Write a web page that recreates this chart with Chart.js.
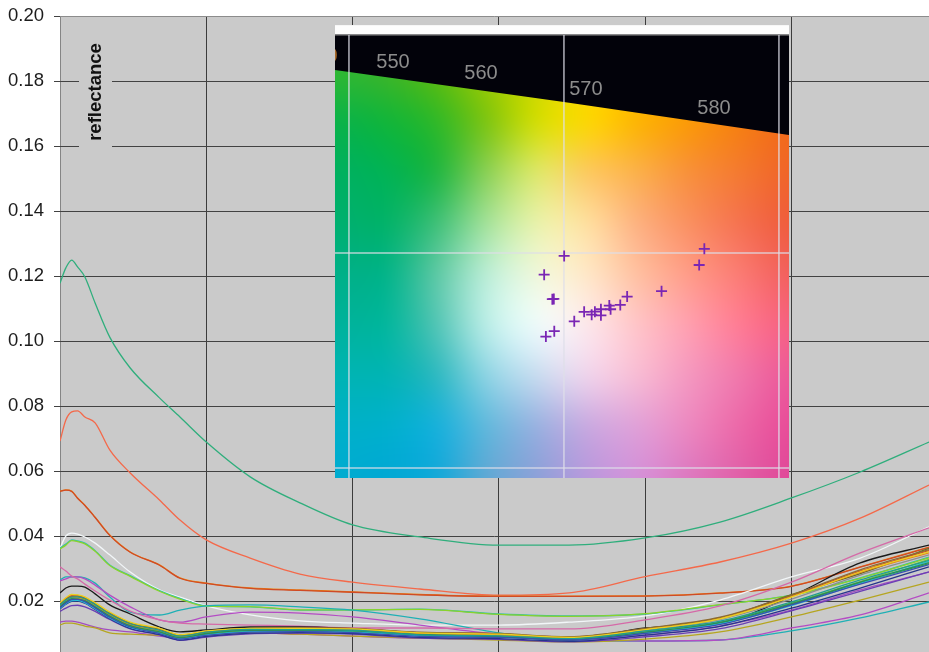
<!DOCTYPE html>
<html lang="en">
<head>
    <meta charset="UTF-8">
    <title>Reflectance spectra</title>
    <script src="https://cdn.jsdelivr.net/npm/chart.js"></script>
    <style>
        html, body { margin: 0; padding: 0; background: #fff; }
        canvas { display: block; }
    </style>
    <script>
        // x positions of the readings, in nm (no labels on the axis)
        const wavelengths = [400, 402, 404, 406, 408.5, 412, 417, 424, 434, 441, 450, 465, 482, 500, 523, 550, 574, 600, 625.6, 650, 673.5, 697];
        const yTicks = [0.20, 0.18, 0.16, 0.14, 0.12, 0.10, 0.08, 0.06, 0.04, 0.02];
        const xTicks = [400, 450, 500, 550, 600, 650];

        // the crowded group of curves near the bottom
        const bandBlue = [.0180,.0194,.0204,.0205,.0198,.0179,.0150,.0120,.0100,.0083,.0094,.0104,.0106,.0103,.0091,.0088,.0080,.0100,.0128,.0188,.0252,.0312];
        const bandTeal = [.0188,.0203,.0212,.0213,.0207,.0189,.0160,.0130,.0110,.0092,.0104,.0113,.0112,.0110,.0096,.0093,.0084,.0108,.0138,.0197,.0265,.0325];
        const bandYellow = [.0195,.0210,.0220,.0219,.0213,.0195,.0166,.0135,.0116,.0096,.0108,.0116,.0116,.0114,.0102,.0098,.0088,.0112,.0145,.0212,.0290,.0352];
        const bandDarkGreen = [.0182,.0198,.0207,.0206,.0201,.0182,.0154,.0124,.0105,.0087,.0100,.0110,.0110,.0108,.0097,.0090,.0082,.0104,.0134,.0192,.0258,.0318];
        const bandBrown = [.0190,.0206,.0214,.0215,.0208,.0191,.0162,.0132,.0113,.0094,.0106,.0116,.0118,.0116,.0104,.0100,.0090,.0116,.0150,.0218,.0296,.0358];
        const bandOrange = [.0186,.0202,.0211,.0210,.0205,.0187,.0158,.0128,.0109,.0090,.0103,.0112,.0113,.0112,.0100,.0096,.0087,.0113,.0147,.0214,.0288,.0348];
        const bandCyan = [.0178,.0192,.0201,.0202,.0195,.0176,.0148,.0119,.0101,.0084,.0096,.0106,.0107,.0105,.0093,.0089,.0081,.0102,.0130,.0186,.0254,.0322];
        const bandNavy = [.0176,.0190,.0199,.0200,.0193,.0174,.0146,.0116,.0097,.0080,.0091,.0101,.0103,.0100,.0088,.0084,.0076,.0095,.0122,.0178,.0240,.0305];
        const bandLime = [.0183,.0199,.0208,.0208,.0202,.0184,.0155,.0125,.0106,.0088,.0101,.0109,.0109,.0107,.0095,.0091,.0083,.0106,.0136,.0194,.0260,.0328];
        const bandRed = [.0192,.0208,.0217,.0217,.0210,.0193,.0164,.0133,.0114,.0095,.0107,.0115,.0117,.0115,.0103,.0099,.0089,.0114,.0148,.0216,.0292,.0355];
        const bandGrey = [.0187,.0201,.0210,.0211,.0204,.0186,.0159,.0127,.0107,.0091,.0103,.0112,.0114,.0111,.0099,.0094,.0085,.0110,.0143,.0206,.0280,.0342];
        const bandViolet = [.0168,.0178,.0186,.0187,.0182,.0168,.0143,.0114,.0096,.0079,.0089,.0099,.0101,.0098,.0086,.0082,.0074,.0090,.0115,.0170,.0230,.0290];
        const bandGreen = [.0180,.0195,.0205,.0204,.0199,.0181,.0152,.0122,.0103,.0085,.0098,.0107,.0108,.0106,.0094,.0091,.0082,.0101,.0131,.0190,.0256,.0315];
        const bandOlive = [.0184,.0197,.0206,.0207,.0200,.0183,.0156,.0126,.0108,.0089,.0105,.0114,.0115,.0113,.0101,.0097,.0088,.0115,.0146,.0220,.0284,.0362];

        // the curves that can be followed on their own
        const curveBlack = [.0225,.0240,.0246,.0246,.0243,.0222,.0188,.0160,.0120,.0105,.0111,.0120,.0120,.0114,.0102,.0092,.0080,.0117,.0132,.0215,.0317,.0372];
        const curveOchre = [.0126,.0132,.0132,.0129,.0123,.0117,.0102,.0098,.0095,.0089,.0095,.0102,.0098,.0092,.0086,.0080,.0074,.0083,.0105,.0151,.0203,.0258];
        const curvePurple = [.0135,.0138,.0138,.0135,.0129,.0120,.0111,.0105,.0092,.0086,.0092,.0102,.0098,.0092,.0086,.0089,.0080,.0095,.0123,.0172,.0234,.0289];
        const curvePink = [.0305,.0292,.0277,.0268,.0252,.0231,.0203,.0169,.0142,.0132,.0129,.0126,.0123,.0117,.0117,.0114,.0114,.0142,.0185,.0258,.0348,.0425];
        const curveMagenta = [.0262,.0268,.0274,.0274,.0268,.0249,.0218,.0182,.0142,.0135,.0151,.0166,.0163,.0151,.0126,.0098,.0083,.0077,.0080,.0117,.0157,.0225];
        const curveTealLow = [.0265,.0274,.0274,.0274,.0271,.0255,.0212,.0166,.0157,.0172,.0185,.0188,.0182,.0172,.0145,.0102,.0080,.0077,.0080,.0108,.0148,.0197];
        const curveLime = [.0360,.0372,.0386,.0383,.0376,.0353,.0309,.0276,.0230,.0206,.0184,.0183,.0173,.0173,.0174,.0159,.0153,.0161,.0189,.0217,.0270,.0333];
        const curveTeal = [.0363,.0375,.0388,.0385,.0378,.0355,.0311,.0278,.0232,.0208,.0185,.0182,.0172,.0172,.0175,.0160,.0154,.0160,.0188,.0218,.0271,.0335];
        const curveWhite = [.0363,.0400,.0409,.0406,.0397,.0378,.0342,.0289,.0234,.0212,.0185,.0157,.0139,.0132,.0126,.0126,.0135,.0154,.0203,.0274,.0332,.0428];
        const curveRust = [.0537,.0541,.0537,.0516,.0494,.0457,.0402,.0350,.0310,.0270,.0254,.0239,.0233,.0227,.0219,.0214,.0214,.0215,.0224,.0245,.0304,.0365];
        const curveOrange = [.0538,.0542,.0538,.0517,.0495,.0458,.0403,.0351,.0311,.0271,.0255,.0240,.0234,.0228,.0220,.0215,.0215,.0216,.0225,.0246,.0305,.0366];
        const curveCoral = [.0692,.0757,.0782,.0785,.0766,.0748,.0665,.0594,.0511,.0449,.0388,.0332,.0283,.0258,.0237,.0218,.0225,.0275,.0320,.0378,.0455,.0557];
        const curveGreen = [.1178,.1225,.1249,.1228,.1197,.1117,.1012,.0917,.0825,.0766,.0689,.0582,.0502,.0434,.0397,.0372,.0372,.0394,.0443,.0517,.0597,.0689];

        const seriesData = [bandBlue, bandTeal, bandYellow, bandDarkGreen, bandBrown, bandOrange, bandCyan, bandNavy, bandLime, bandRed, bandGrey, bandViolet, bandGreen, bandOlive,
            curveBlack, curveOchre, curvePurple, curvePink, curveMagenta, curveTealLow, curveLime, curveTeal, curveWhite, curveRust, curveOrange, curveCoral, curveGreen];
        const seriesColors = ['#3a4fb0', '#1f9e8f', '#e9d21f', '#2e8b57', '#8c6d31', '#e58a1f', '#21c7d6', '#26358c', '#6cc644', '#d43d2a', '#8d8d8d', '#6a3fb5', '#1fa84f', '#6b6b1f',
            '#1a1a1a', '#b5a520', '#a24ec0', '#d56aa8', '#b44cc4', '#1fb0b5', '#8bd32a', '#2ebfb0', '#f2f6f8', '#cf4a26', '#ee8410', '#f4694a', '#2fae7c'];

        // inset: the measured points in the u'v' diagram
        const crossU = [.2653, .2629, .2001, .1908, .1946, .1953, .2454, .2294, .2262, .2211, .2217, .2172, .2172, .2144, .2129, .2094, .2048, .1955, .1916];
        const crossV = [.5019, .4944, .4986, .4899, .4785, .4786, .4822, .4797, .4758, .4755, .4738, .4738, .4710, .4727, .4713, .4726, .4682, .4636, .4611];

        const insetGridU = [0.1, 0.2, 0.3];
        const insetGridV = [0.5, 0.4];
        const locusU = [.0935, .2, .3047];
        const locusV = [.5851, .5702, .5549];
        const locusLabels = ['540', '550', '560', '570', '580'];
        const locusLabelU = [.0870, .1205, .1614, .2102, .2698];
        const locusLabelV = [.5916, .5888, .5833, .5758, .5670];

        // colours of the diagram, top row to bottom row
        const insetRows = [
            ['#2fb832', '#3cb52a', '#5dbb10', '#9ccc05', '#cfd800', '#ffd800', '#ffc000', '#ffa800', '#fa8c00', '#f57810'],
            ['#0ab24a', '#10b53a', '#2db828', '#7cc410', '#d4de00', '#fdd800', '#fdb400', '#fb9a05', '#f6800f', '#f26a18'],
            ['#00b060', '#00b355', '#1cb540', '#8ad055', '#dfe96a', '#fdc860', '#fbb04a', '#f8903a', '#f47a30', '#f06428'],
            ['#00b070', '#00b268', '#3cbf77', '#a4e29a', '#eaf3ac', '#ffe0a0', '#fdb080', '#fa9060', '#f57250', '#ef5c3c'],
            ['#00b088', '#00b388', '#5cc8a4', '#bceed8', '#f0f8dc', '#ffe8c8', '#ffc0a0', '#ff9c88', '#fb7c74', '#f25f5c'],
            ['#00b29c', '#00b69c', '#50c4b4', '#bceee8', '#f0fcfc', '#fde8ec', '#ffc4c8', '#ffa0b0', '#ff7c94', '#f66080'],
            ['#00b4b4', '#00b4b4', '#2ab8c0', '#8ed4e4', '#c8dcf0', '#f0d4ec', '#f8bcd4', '#f498c0', '#f078ac', '#ec5898'],
            ['#00b0c8', '#00b0cc', '#14b0dc', '#60b8dc', '#98b0e0', '#c8a8e0', '#e0a0d8', '#ec88c0', '#ec68a8', '#e84c98'],
            ['#00acd0', '#00a8d4', '#10a8d8', '#60a8d4', '#8ca0d8', '#b898dc', '#d490d8', '#dc78c0', '#e060a8', '#e04898']
        ];

        const PLOT_BG = '#cacaca';
        const FONT = '"Liberation Sans", Arial, sans-serif';

        function noPadding(s) {
            s.paddingLeft = s.paddingRight = s.paddingTop = s.paddingBottom = 0;
        }

        function colorField() {
            const rows = insetRows.length, cols = insetRows[0].length;
            const c = document.createElement('canvas');
            c.width = cols;
            c.height = rows;
            const g = c.getContext('2d');
            insetRows.forEach((row, r) => row.forEach((col, i) => {
                g.fillStyle = col;
                g.fillRect(i, r, 1, 1);
            }));
            return c;
        }

        const backgroundPlugin = {
            id: 'plotBackground',
            beforeDraw(chart) {
                const a = chart.chartArea, ctx = chart.ctx;
                ctx.save();
                ctx.fillStyle = PLOT_BG;
                ctx.fillRect(a.left, a.top, a.right - a.left, a.bottom - a.top);
                ctx.restore();
            }
        };

        // axis title sits inside the plot with a patch behind it, then the diagram
        const insetPlugin = {
            id: 'inset',
            beforeDatasetsDraw(chart) {
                const ctx = chart.ctx, U = chart.scales.u, V = chart.scales.v;
                const px = u => U.getPixelForValue(u), py = v => V.getPixelForValue(v);

                ctx.save();
                ctx.fillStyle = PLOT_BG;
                ctx.fillRect(79, 30, 33, 128);
                ctx.translate(101, 92);
                ctx.rotate(-Math.PI / 2);
                ctx.fillStyle = '#111';
                ctx.font = 'bold 18.5px ' + FONT;
                ctx.textAlign = 'center';
                ctx.fillText('reflectance', 0, 0);
                ctx.restore();

                const left = px(.0935), right = px(.3047), top = py(.6060), bottom = py(.3953);
                const imgTop = py(.5851);
                ctx.save();
                ctx.beginPath();
                ctx.rect(left, top, right - left, bottom - top);
                ctx.clip();
                ctx.fillStyle = '#02020a';
                ctx.fillRect(left, top, right - left, bottom - top);
                ctx.imageSmoothingEnabled = true;
                ctx.imageSmoothingQuality = 'high';
                const field = colorField();
                ctx.drawImage(field, 0.5, 0.5, field.width - 1, field.height - 1, left, imgTop, right - left, bottom - imgTop);

                // black above the spectrum locus
                ctx.fillStyle = '#02020a';
                ctx.beginPath();
                ctx.moveTo(left, top);
                ctx.lineTo(right, top);
                locusU.slice().reverse().forEach((u, i) => ctx.lineTo(px(u), py(locusV[locusV.length - 1 - i])));
                ctx.closePath();
                ctx.fill();

                ctx.fillStyle = '#fdfdfd';
                ctx.fillRect(left, top, right - left, 9.5);
                ctx.fillStyle = '#8a8a8a';
                ctx.fillRect(left, top + 9.5, right - left, 1);

                ctx.strokeStyle = 'rgba(222, 222, 232, 0.8)';
                ctx.lineWidth = 1.5;
                insetGridU.forEach(u => {
                    ctx.beginPath();
                    ctx.moveTo(px(u), top + 10);
                    ctx.lineTo(px(u), bottom);
                    ctx.stroke();
                });
                insetGridV.forEach(v => {
                    ctx.beginPath();
                    ctx.moveTo(left, py(v));
                    ctx.lineTo(right, py(v));
                    ctx.stroke();
                });

                ctx.font = '20px ' + FONT;
                ctx.textAlign = 'center';
                ctx.textBaseline = 'middle';
                locusLabels.forEach((t, i) => {
                    ctx.fillStyle = t === '540' ? '#a86a2a' : '#8c8c8c';
                    ctx.fillText(t, px(locusLabelU[i]), py(locusLabelV[i]));
                });
                ctx.restore();
            }
        };

        document.addEventListener('DOMContentLoaded', function () {
            const datasets = seriesData.map((values, s) => ({
                data: values.map((v, i) => ({ x: wavelengths[i], y: v })),
                borderColor: seriesColors[s],
                borderWidth: 1.3,
                showLine: true,
                pointRadius: 0,
                cubicInterpolationMode: 'monotone'
            }));
            datasets.push({
                data: crossU.map((u, i) => ({ x: u, y: crossV[i] })),
                xAxisID: 'u',
                yAxisID: 'v',
                showLine: false,
                pointStyle: 'cross',
                pointRadius: 5.5,
                pointBorderWidth: 1.8,
                pointBorderColor: '#7a26b4',
                pointBackgroundColor: '#7a26b4'
            });

            new Chart(document.getElementById('chart').getContext('2d'), {
                type: 'scatter',
                data: { datasets: datasets },
                plugins: [backgroundPlugin, insetPlugin],
                options: {
                    responsive: false,
                    animation: false,
                    devicePixelRatio: 1,
                    // no extra room around the plot for the crosses
                    layout: { autoPadding: false, padding: { top: 16, left: 0, right: 0, bottom: 0 } },
                    plugins: { legend: { display: false }, title: { display: false }, tooltip: { enabled: false } },
                    scales: {
                        x: {
                            type: 'linear',
                            min: 400,
                            max: 697,
                            afterBuildTicks: s => { s.ticks = xTicks.map(v => ({ value: v })); },
                            afterFit: s => { s.height = 0; noPadding(s); },
                            ticks: { display: false },
                            border: { display: false },
                            grid: {
                                drawTicks: false,
                                lineWidth: 1,
                                color: c => c.tick && c.tick.value === 400 ? '#858585' : '#3c3c3c'
                            }
                        },
                        y: {
                            type: 'linear',
                            min: 0.00431,
                            max: 0.20,
                            afterBuildTicks: s => { s.ticks = yTicks.map(v => ({ value: v })); },
                            afterFit: s => { s.width = 60; noPadding(s); },
                            border: { display: false },
                            grid: {
                                tickLength: 6,
                                lineWidth: 1,
                                color: c => c.tick && c.tick.value === 0.20 ? '#8c8c8c' : '#424242',
                                tickColor: '#424242'
                            },
                            ticks: {
                                padding: 10,
                                color: '#1c1c1c',
                                font: { family: FONT, size: 18.5 },
                                callback: v => v.toFixed(2)
                            }
                        },
                        // inset axes, spread so that they line up with the diagram
                        u: { type: 'linear', axis: 'x', display: false, min: -0.0344, max: 0.3698 },
                        v: { type: 'linear', axis: 'y', display: false, min: 0.3144, max: 0.6102 }
                    }
                }
            });
        });
    </script>
</head>
<body>
    <canvas id="chart" width="929" height="652"></canvas>
</body>
</html>
